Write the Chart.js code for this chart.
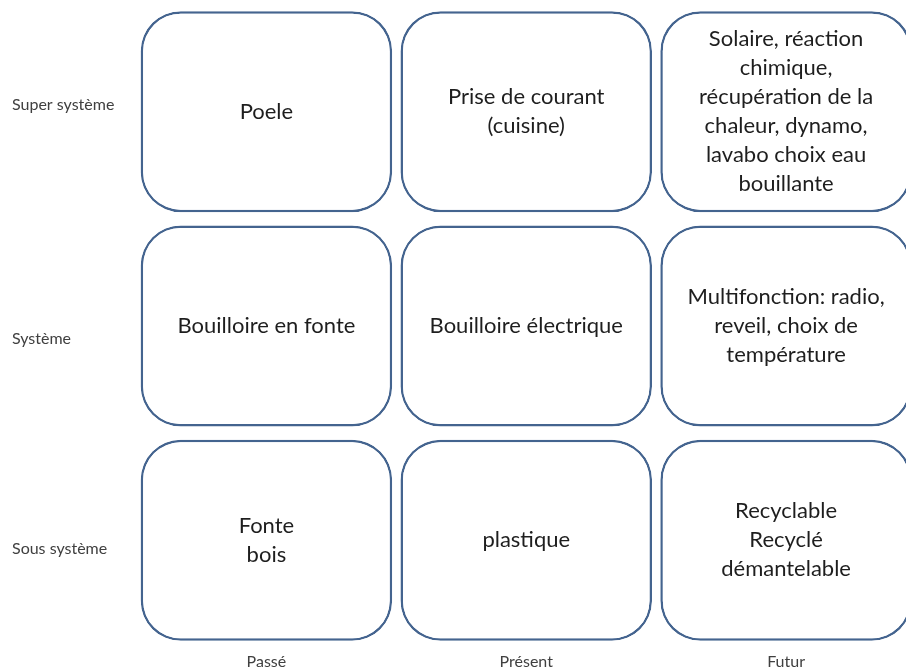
<!DOCTYPE html>
<html>
<head>
<meta charset="utf-8">
<script src="https://cdn.jsdelivr.net/npm/chart.js@4"></script>
<style>
  html, body { margin: 0; padding: 0; background: #fff; overflow: hidden; }
  #wrap { width: 916px; height: 671px; }
</style>
</head>
<body>
<div id="wrap"><canvas id="grid"></canvas></div>
<script>
// ---- data ----
const columns = ['Passé', 'Présent', 'Futur'];
const levels = ['Super système', 'Système', 'Sous système'];
const levelTicks = [0.47, 1.56, 2.54];   // where the level labels sit on the y scale
const cellText = [
  ['Poele', 'Prise de courant\n(cuisine)', 'Solaire, réaction\nchimique,\nrécupération de la\nchaleur, dynamo,\nlavabo choix eau\nbouillante'],
  ['Bouilloire en fonte', 'Bouilloire électrique', 'Multifonction: radio,\nreveil, choix de\ntempérature'],
  ['Fonte\nbois', 'plastique', 'Recyclable\nRecyclé\ndémantelable']
];

const GAP = 0.031;       // vertical gap between boxes (axis units)
const LINE_H = 29;
const BOX_COLOR = '#44648f';
const FONT = 'Lato, "Open Sans", sans-serif';

// one dataset per level, each box spans its own row on the y scale
const datasets = levels.map((lvl, i) => ({
  label: lvl,
  data: columns.map(() => [i + GAP, i + 1 - GAP]),
  cellText: cellText[i],
  backgroundColor: '#ffffff',
  borderColor: BOX_COLOR,
  borderWidth: 2.5,
  borderRadius: 40,
  borderSkipped: false,
  grouped: false,
  categoryPercentage: 1,
  barPercentage: 0.968
}));

// draws the text in the middle of each box
const boxText = {
  id: 'boxText',
  afterDatasetsDraw(chart){
    const ctx = chart.ctx;
    ctx.save();
    ctx.font = '22px ' + FONT;
    ctx.fillStyle = '#1e1e1e';
    ctx.textAlign = 'center';
    ctx.textBaseline = 'middle';
    chart.data.datasets.forEach((ds, di) => {
      chart.getDatasetMeta(di).data.forEach((bar, j) => {
        const lines = ds.cellText[j].split('\n');
        const cy = (bar.y + bar.base) / 2;
        const top = cy - (lines.length - 1) * LINE_H / 2;
        lines.forEach((l, k) => ctx.fillText(l, bar.x, top + k * LINE_H));
      });
    });
    ctx.restore();
  }
};

new Chart(document.getElementById('grid'), {
  type: 'bar',
  data: { labels: columns, datasets: datasets },
  options: {
    responsive: true,
    maintainAspectRatio: false,
    animation: false,
    layout: { padding: { left: 12, top: 4.5, right: 0, bottom: 0 } },
    plugins: { legend: { display: false }, tooltip: { enabled: false } },
    scales: {
      x: {
        grid: { display: false, drawTicks: false },
        border: { display: false },
        afterFit: s => { s.height = 23.5; s.paddingLeft = 0; s.paddingRight = 0; },
        ticks: { color: '#404040', padding: 5, font: { family: FONT, size: 16 } }
      },
      y: {
        min: 0, max: 3, reverse: true,
        grid: { display: false, drawTicks: false },
        border: { display: false },
        afterBuildTicks: s => { s.ticks = levelTicks.map(v => ({ value: v })); },
        afterFit: s => { s.width = 124.5; s.paddingTop = 0; s.paddingBottom = 0; },
        ticks: {
          crossAlign: 'far',
          color: '#404040',
          padding: 0,
          font: { family: FONT, size: 16 },
          callback: v => levels[Math.floor(v)]
        }
      }
    }
  },
  plugins: [boxText]
});
</script>
</body>
</html>
